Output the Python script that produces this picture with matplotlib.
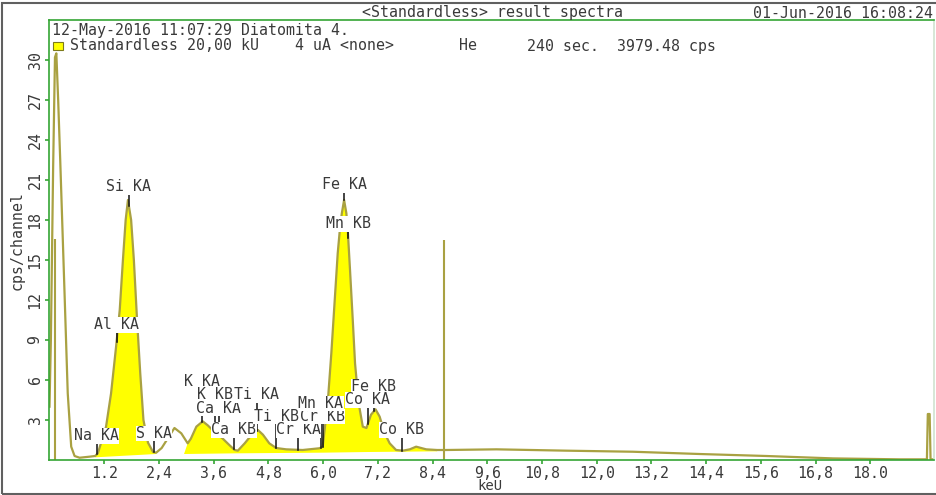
import numpy as np
import matplotlib
matplotlib.use('Agg')
import matplotlib.pyplot as plt
from matplotlib.patches import Rectangle

# spectre (keV, cps/channel)
energy = [0.00, 0.03, 0.08, 0.12, 0.15, 0.19, 0.235, 0.33, 0.40, 0.476, 0.55, 0.66, 0.88,
          1.00, 1.06, 1.24, 1.35, 1.46, 1.54, 1.61, 1.67, 1.72, 1.79, 1.85, 1.92, 1.99,
          2.06, 2.16, 2.27, 2.34, 2.46, 2.59, 2.74, 2.89, 3.03, 3.10, 3.22, 3.36, 3.47,
          3.62, 3.80, 3.95, 4.06, 4.13, 4.28, 4.46, 4.57, 4.68, 4.82, 4.97, 5.19, 5.55,
          5.92, 5.99, 6.10, 6.18, 6.25, 6.32, 6.37, 6.41, 6.46, 6.51, 6.54, 6.59, 6.65,
          6.70, 6.78, 6.87, 6.95, 7.05, 7.15, 7.24, 7.35, 7.46, 7.60, 7.75, 7.90, 8.04,
          8.26, 8.50, 8.70, 9.80, 11.33, 12.79, 14.25, 15.72, 17.18, 18.64, 19.24, 19.26,
          19.30, 19.32, 19.40]
counts = [4.0, 9.0, 22.0, 30.2, 30.5, 27.0, 22.5, 12.5, 5.0, 1.0, 0.3, 0.17, 0.25,
          0.3, 0.5, 2.5, 5.0, 8.5, 11.25, 15.0, 18.0, 19.5, 18.0, 15.0, 10.5, 6.5,
          3.0, 1.3, 0.6, 0.55, 0.9, 1.6, 2.4, 2.0, 1.25, 1.6, 2.5, 2.9, 2.6,
          2.1, 1.6, 1.1, 0.75, 0.7, 1.25, 2.0, 2.25, 1.9, 1.25, 0.9, 0.8, 0.75,
          0.88, 1.0, 4.25, 8.0, 11.75, 15.5, 17.4, 18.5, 19.5, 18.5, 17.25, 14.25, 10.5,
          7.25, 4.25, 2.5, 2.4, 3.4, 3.8, 3.25, 2.0, 1.25, 0.75, 0.7, 0.8, 1.0,
          0.8, 0.75, 0.75, 0.8, 0.7, 0.62, 0.45, 0.3, 0.12, 0.05, 0.05, 3.45,
          3.45, 0.05, 0.05]

# zones remplies en jaune : bornes et fond continu
fill_ranges = [(1.00, 2.34), (3.03, 8.50)]
bg_energy = [[1.00, 2.34], [2.95, 4.10, 6.00, 7.00, 8.50]]
bg_counts = [[0.20, 0.45], [0.45, 0.50, 0.55, 0.60, 0.65]]

# raies identifiées
line_names = ["Na KA", "Al KA", "Si KA", "S KA", "K KA", "K KB", "Ca KA", "Ca KB", "Ti KA",
              "Ti KB", "Cr KA", "Cr KB", "Mn KA", "Mn KB", "Fe KA", "Fe KB", "Co KA", "Co KB"]
line_energy = [1.035, 1.47, 1.74, 2.29, 3.34, 3.62, 3.71, 4.04, 4.55,
               4.97, 5.46, 5.99, 5.95, 6.55, 6.46, 7.11, 6.98, 7.72]
label_level = [1.80, 10.13, 20.48, 2.0, 5.87, 4.88, 3.88, 2.25, 4.88,
               3.25, 2.25, 3.25, 4.25, 17.7, 20.63, 5.5, 4.5, 2.25]

# marqueurs verticaux (keV, hauteur)
marker_energy = [0.125, 8.65]
marker_height = [16.58, 16.5]

xticks = [1.2, 2.4, 3.6, 4.8, 6.0, 7.2, 8.4, 9.6, 10.8, 12.0, 13.2, 14.4, 15.6, 16.8, 18.0]
xticklabels = ["1.2", "2,4", "3,6", "4,8", "6,0", "7,2", "8,4", "9,6", "10,8", "12,0",
               "13,2", "14,4", "15,6", "16,8", "18.0"]
yticks = [3, 6, 9, 12, 15, 18, 21, 24, 27, 30]

title_txt = "<Standardless> result spectra"
date_txt = "01-Jun-2016 16:08:24"
sample_txt = "12-May-2016 11:07:29 Diatomita 4."
legend_txt = "Standardless 20,00 kU    4 uA <none>"
gas_txt = "He"
acq_txt = "240 sec.  3979.48 cps"

W, H = 937, 495
MONO = 'DejaVu Sans Mono'
FS = 10.7
TXT = '#3a3a3a'
GREEN = '#35a535'
OLIVE = '#a9a142'


def fx(x):
    return x / W


def fy(y):
    return 1 - y / H


fig = plt.figure(figsize=(W / 100, H / 100), dpi=100)
ax = fig.add_axes([fx(49.5), 35 / H, 884.7 / W, 440 / H])

E = np.array(energy)
C = np.array(counts)

for (lo, hi), be, bc in zip(fill_ranges, bg_energy, bg_counts):
    sel = (E >= lo) & (E <= hi)
    px = list(E[sel]) + be[::-1]
    py = list(C[sel]) + bc[::-1]
    ax.fill(px, py, color='#ffff00', lw=0, zorder=1)

ax.plot(E, C, color=OLIVE, lw=1.6, zorder=2)
ax.vlines(marker_energy, 0, marker_height, color=OLIVE, lw=1.5, zorder=2)

for name, e, lev in zip(line_names, line_energy, label_level):
    bottom = np.interp(e, E, C)
    ax.plot([e, e], [lev - 0.42, bottom], color='#111111', lw=1.1, zorder=3)
    ax.text(e, lev, name, ha='center', va='center', fontsize=FS, family=MONO, color=TXT,
            zorder=4, bbox=dict(boxstyle='square,pad=0.02', fc='white', ec='none'))

ax.set_xlim(0, 19.4)
ax.set_ylim(0, 33)
ax.set_xticks(xticks)
ax.set_xticklabels(xticklabels, family=MONO, fontsize=FS, color=TXT)
ax.set_yticks(yticks)
ax.set_yticklabels([str(v) for v in yticks], family=MONO, fontsize=FS, color=TXT,
                   rotation=90, va='center')
ax.tick_params(direction='out', length=3, width=1.2, color=GREEN)
ax.tick_params(axis='x', pad=1)
ax.tick_params(axis='y', pad=2)
for s in ['left', 'bottom', 'top']:
    ax.spines[s].set_color(GREEN)
    ax.spines[s].set_linewidth(1.2)
ax.spines['right'].set_color('#cfe3cf')
ax.spines['right'].set_linewidth(1.2)

# cadre gris extérieur
fig.patches.append(Rectangle((fx(2.5), fy(493.5)), (945 - 2.5) / W, 491 / H, fill=False,
                             edgecolor='#606060', lw=1.5, transform=fig.transFigure))

kw = dict(family=MONO, fontsize=FS, color=TXT, va='center')
fig.text(fx(492.5), fy(13), title_txt, ha='center', **kw)
fig.text(fx(933), fy(13), date_txt, ha='right', **kw)
fig.text(fx(52), fy(30), sample_txt, ha='left', **kw)
fig.patches.append(Rectangle((fx(53.5), fy(50)), 10 / W, 8 / H, facecolor='#ffff00',
                             edgecolor='#7d7a1c', lw=0.8, transform=fig.transFigure))
fig.text(fx(70.5), fy(46), legend_txt, ha='left', **kw)
fig.text(fx(459), fy(46), gas_txt, ha='left', **kw)
fig.text(fx(527), fy(46), acq_txt, ha='left', **kw)
fig.text(fx(490), fy(486), "keU", ha='center', va='center', family=MONO, fontsize=10,
         color=TXT)
fig.text(fx(16.7), fy(240), "cps/channel", ha='center', rotation=90, **kw)

fig.savefig('out.png', dpi=100)
